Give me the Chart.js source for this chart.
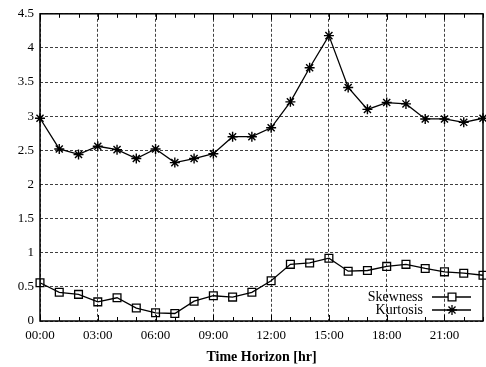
<!DOCTYPE html>
<html>
<head>
<meta charset="utf-8">
<script src="https://cdn.jsdelivr.net/npm/chart.js@4.4.0/dist/chart.umd.min.js"></script>
<style>
html,body{margin:0;padding:0;background:#fff;overflow:hidden;}
#wrap{width:490px;height:367px;}
</style>
</head>
<body>
<div id="wrap"><canvas id="chart" width="490" height="367"></canvas></div>
<script>
// data
var hours = ["00:00","01:00","02:00","03:00","04:00","05:00","06:00","07:00","08:00","09:00","10:00","11:00",
"12:00","13:00","14:00","15:00","16:00","17:00","18:00","19:00","20:00","21:00","22:00","23:00"];
var skewness = [0.56,0.42,0.39,0.28,0.34,0.19,0.12,0.11,0.29,0.37,0.35,0.42,
0.59,0.83,0.85,0.92,0.73,0.74,0.80,0.83,0.77,0.72,0.70,0.67];
var kurtosis = [2.97,2.52,2.44,2.56,2.51,2.38,2.52,2.32,2.38,2.45,2.70,2.70,
2.83,3.21,3.71,4.18,3.42,3.10,3.20,3.18,2.96,2.96,2.91,2.97];
var yTicks = [0,0.5,1,1.5,2,2.5,3,3.5,4,4.5];

var FONT = "Liberation Serif";

// gnuplot style inward ticks + frame
var frame = {
id:"frame",
afterDatasetsDraw(c){
let a=c.chartArea, ctx=c.ctx, x=c.scales.x;
ctx.save();
ctx.strokeStyle="#000";
ctx.lineWidth=1;
ctx.beginPath();
for(let i=0;i<hours.length;i++){
let px=Math.round(x.getPixelForValue(i))+0.5;
let len = i%3===0 ? 6 : 4;
ctx.moveTo(px,a.bottom); ctx.lineTo(px,a.bottom-len);
ctx.moveTo(px,a.top); ctx.lineTo(px,a.top+len);
}
ctx.stroke();
ctx.lineWidth=1.5;
ctx.strokeRect(a.left,a.top,a.right-a.left,a.bottom-a.top);
ctx.restore();
}
};

// legend: text then sample, bottom right
var legendBox = {
id:"legendBox",
afterDraw(c){
let ctx=c.ctx;
let rows=[["Skewness","rect",297],["Kurtosis","star",310]];
ctx.save();
ctx.font="14px '"+FONT+"'";
ctx.textAlign="right";
ctx.textBaseline="middle";
rows.forEach(r=>{
ctx.fillStyle="#000";
ctx.fillText(r[0],423,r[2]);
ctx.strokeStyle="#000";
ctx.lineWidth=1.3;
ctx.beginPath(); ctx.moveTo(432,r[2]); ctx.lineTo(471,r[2]); ctx.stroke();
ctx.fillStyle="#fff";
Chart.helpers.drawPoint(ctx,{pointStyle:r[1],radius:r[1]==="rect"?5.5:5,borderWidth:1.3},452,r[2]);
});
ctx.restore();
}
};

new Chart(document.getElementById("chart"),{
type:"line",
data:{
labels:hours,
datasets:[
{label:"Skewness",data:skewness,borderColor:"#000",backgroundColor:"transparent",borderWidth:1.3,
pointStyle:"rect",pointRadius:5.5,pointBorderWidth:1.3,pointBorderColor:"#000",pointBackgroundColor:"transparent",tension:0},
{label:"Kurtosis",data:kurtosis,borderColor:"#000",backgroundColor:"transparent",borderWidth:1.3,
pointStyle:"star",pointRadius:5,pointBorderWidth:1.4,pointBorderColor:"#000",pointBackgroundColor:"transparent",tension:0}
]
},
options:{
responsive:false,
animation:false,
clip:false,
layout:{padding:{top:10,right:2,left:0,bottom:0}},
plugins:{legend:{display:false},tooltip:{enabled:false}},
scales:{
x:{
offset:false,
afterFit(s){ s.height=46; },
grid:{
color:ctx=>ctx.index%3===0 ? "rgba(0,0,0,0.75)" : "transparent",
drawTicks:false,lineWidth:1
},
border:{display:false,dash:[3,2]},
ticks:{
autoSkip:false,maxRotation:0,padding:7,color:"#000",
font:{family:FONT,size:13},
callback:function(v,i){ return i%3===0 ? hours[i] : ""; }
},
title:{display:true,text:"Time Horizon [hr]",color:"#000",font:{family:FONT,size:14,weight:"bold"},padding:{top:4,bottom:1}}
},
y:{
min:0,max:4.5,
afterFit(s){ s.width=40; },
afterBuildTicks(s){ s.ticks=yTicks.map(v=>({value:v})); },
grid:{color:"rgba(0,0,0,0.75)",drawTicks:false,lineWidth:1},
border:{display:false,dash:[3,2]},
ticks:{padding:6,color:"#000",font:{family:FONT,size:13},callback:v=>String(v)}
}
}
},
plugins:[frame,legendBox]
});
</script>
</body>
</html>
